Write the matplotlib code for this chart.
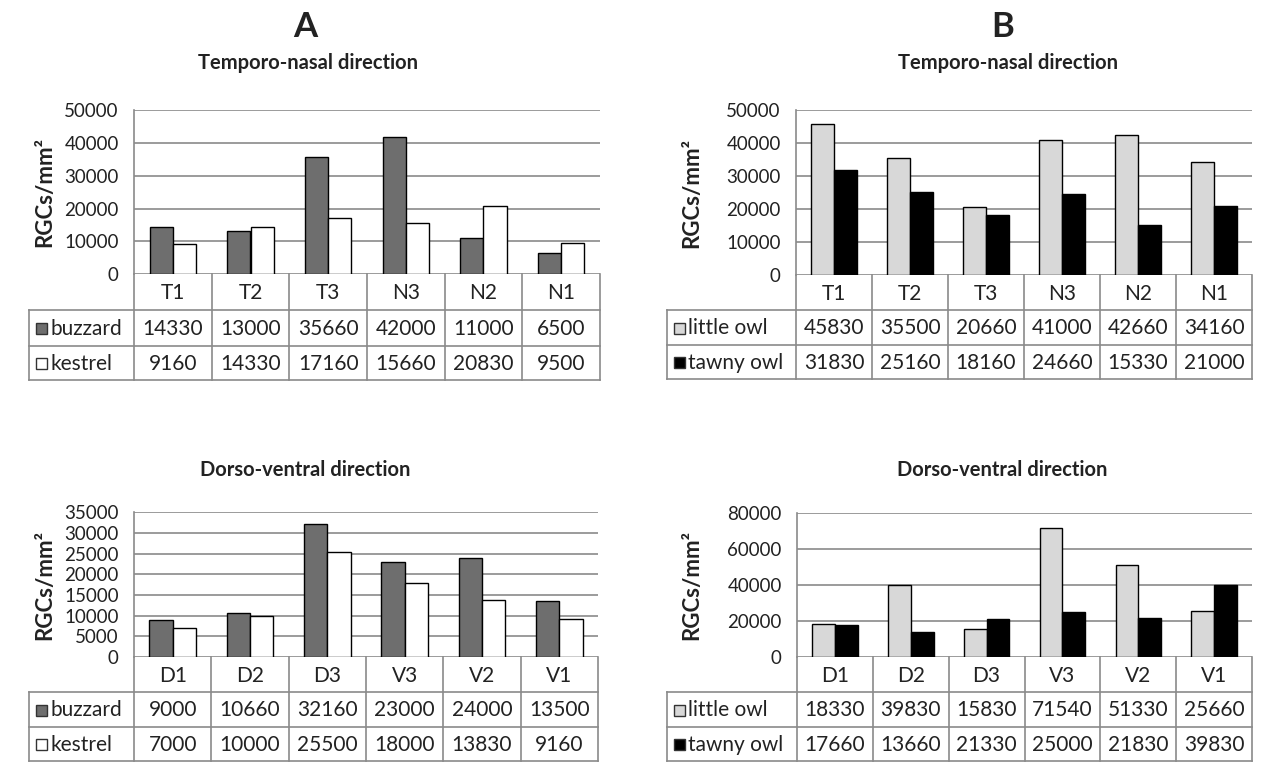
import numpy as np
import matplotlib.pyplot as plt
from matplotlib.patches import Rectangle

plt.rcParams['font.family'] = ['Lato', 'DejaVu Sans']

W, H = 1261, 763

# categories
tn_cats = ['T1', 'T2', 'T3', 'N3', 'N2', 'N1']
dv_cats = ['D1', 'D2', 'D3', 'V3', 'V2', 'V1']

# A: diurnal raptors
buzzard_tn = [14330, 13000, 35660, 42000, 11000, 6500]
kestrel_tn = [9160, 14330, 17160, 15660, 20830, 9500]
buzzard_dv = [9000, 10660, 32160, 23000, 24000, 13500]
kestrel_dv = [7000, 10000, 25500, 18000, 13830, 9160]

# B: owls
little_owl_tn = [45830, 35500, 20660, 41000, 42660, 34160]
tawny_owl_tn = [31830, 25160, 18160, 24660, 15330, 21000]
little_owl_dv = [18330, 39830, 15830, 71540, 51330, 25660]
tawny_owl_dv = [17660, 13660, 21330, 25000, 21830, 39830]

txt = '#222222'
line_c = '#8a8a8a'
fs = 13.5
tfs = 15

fig = plt.figure(figsize=(W / 100, H / 100), dpi=100)
ov = fig.add_axes([0, 0, 1, 1])
ov.set_xlim(0, W)
ov.set_ylim(H, 0)
ov.axis('off')


def panel(box, rows, leg_left, ymax, step, cats, s1, s2, names, colors, ylab_x):
    left, right, top, zero = box
    ax = fig.add_axes([left / W, 1 - zero / H, (right - left) / W, (zero - top) / H])
    ax.set_facecolor('none')
    n = len(cats)
    x = np.arange(n) + 0.5
    w = 0.3
    ax.bar(x - w / 2, s1, w, color=colors[0], edgecolor='black', linewidth=1, zorder=3)
    ax.bar(x + w / 2, s2, w, color=colors[1], edgecolor='black', linewidth=1, zorder=3)
    ax.set_xlim(0, n)
    ax.set_ylim(0, ymax * 1.002)
    ax.set_yticks(np.arange(0, ymax + 1, step))
    ax.set_xticks([])
    ax.yaxis.grid(True, color=line_c, linewidth=1.2)
    ax.set_axisbelow(True)
    for s in ['top', 'right', 'bottom']:
        ax.spines[s].set_visible(False)
    ax.spines['left'].set_color(line_c)
    ax.spines['left'].set_linewidth(1.2)
    ax.tick_params(axis='y', length=0, pad=11, labelsize=fs, labelcolor=txt)

    ov.text(ylab_x, (top + zero) / 2, 'RGCs/mm²', rotation=90, ha='center', va='center',
            fontsize=16, fontweight='bold', color=txt)

    # data table under the plot
    colw = (right - left) / n
    bottom = rows[-1]
    for i in range(n + 1):
        ov.plot([left + i * colw] * 2, [zero, bottom], color=line_c, lw=1.2)
    ov.plot([leg_left, leg_left], [rows[0], bottom], color=line_c, lw=1.2)
    for r in rows:
        ov.plot([leg_left, right], [r, r], color=line_c, lw=1.2)
    for i, c in enumerate(cats):
        ov.text(left + (i + 0.5) * colw, (zero + rows[0]) / 2 + 1, c, ha='center', va='center',
                fontsize=tfs, color=txt)
    for k, (vals, name, col) in enumerate(zip([s1, s2], names, colors)):
        yc = (rows[k] + rows[k + 1]) / 2 + 1
        ov.add_patch(Rectangle((leg_left + 7, yc - 6), 11, 11, facecolor=col,
                               edgecolor='#333333', lw=1))
        ov.text(leg_left + 21, yc, name, ha='left', va='center', fontsize=tfs, color=txt)
        for i, v in enumerate(vals):
            ov.text(left + (i + 0.5) * colw, yc, str(v), ha='center', va='center',
                    fontsize=tfs, color=txt)


raptor_cols = ['#6e6e6e', 'white']
owl_cols = ['#d8d8d8', 'black']

panel((134, 600, 110, 274), [310, 346, 380], 29, 50000, 10000, tn_cats,
      buzzard_tn, kestrel_tn, ['buzzard', 'kestrel'], raptor_cols, 45)
panel((796, 1252, 110, 275), [310, 345, 379], 667, 50000, 10000, tn_cats,
      little_owl_tn, tawny_owl_tn, ['little owl', 'tawny owl'], owl_cols, 692)
panel((134, 598, 512, 657), [692, 727, 761], 29, 35000, 5000, dv_cats,
      buzzard_dv, kestrel_dv, ['buzzard', 'kestrel'], raptor_cols, 45)
panel((797, 1252, 513, 657), [692, 727, 761], 667, 80000, 20000, dv_cats,
      little_owl_dv, tawny_owl_dv, ['little owl', 'tawny owl'], owl_cols, 692)

ov.text(305, 27, 'A', ha='center', va='center', fontsize=25, fontweight='bold', color=txt)
ov.text(1003, 27, 'B', ha='center', va='center', fontsize=25, fontweight='bold', color=txt)
ov.text(308, 63, 'Temporo-nasal direction', ha='center', va='center', fontsize=14.5,
        fontweight='bold', color=txt)
ov.text(1008, 63, 'Temporo-nasal direction', ha='center', va='center', fontsize=14.5,
        fontweight='bold', color=txt)
ov.text(305, 470, 'Dorso-ventral direction', ha='center', va='center', fontsize=14.5,
        fontweight='bold', color=txt)
ov.text(1002, 470, 'Dorso-ventral direction', ha='center', va='center', fontsize=14.5,
        fontweight='bold', color=txt)

fig.savefig('out.png', dpi=100)
